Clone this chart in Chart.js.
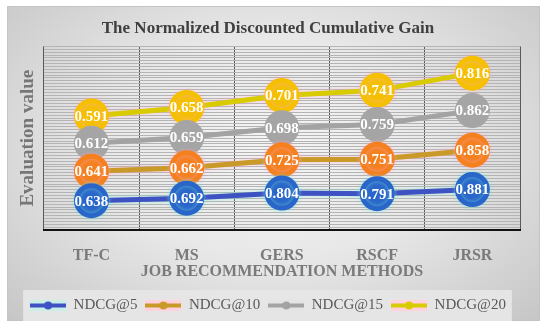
<!DOCTYPE html>
<html>
  <head>
    <meta charset="utf-8" />
    <title>NDCG</title>
    <style>
      body { margin: 0; background: #ffffff; }
      .panel {
        position: absolute;
        left: 7px;
        top: 6px;
        width: 533px;
        height: 315px;
        box-sizing: border-box;
        border: 1px solid #c4c4c4;
        background: radial-gradient(ellipse at 50% 45%, #f5f5f5 0%, #e8e8e8 45%, #c6c6c6 100%);
      }
      .panel canvas { position: absolute; left: -1px; top: -1px; }
    </style>
  </head>

  <body>
    <div class="panel">
      <canvas id="Chart1" width="533" height="315"></canvas>
    </div>

    <script src="https://cdn.jsdelivr.net/npm/chart.js@4"></script>

    <script>
      // methods
      var methods = ["TF-C", "MS", "GERS", "RSCF", "JRSR"];

      // NDCG values
      var ndcg5 = [0.638, 0.692, 0.804, 0.791, 0.881];
      var ndcg10 = [0.641, 0.662, 0.725, 0.751, 0.858];
      var ndcg15 = [0.612, 0.659, 0.698, 0.759, 0.862];
      var ndcg20 = [0.591, 0.658, 0.701, 0.741, 0.816];

      var names = ["NDCG@5", "NDCG@10", "NDCG@15", "NDCG@20"];
      var lineColors = ["#3f52c4", "#c99a28", "#a3a3a3", "#d8cc00"];
      var dotColors = ["#2a66ca", "#f4801f", "#a5a5a5", "#f4c000"];
      var glowColors = [
        "rgba(120,235,215,0.6)",
        "rgba(255,170,200,0.6)",
        "rgba(255,255,255,0)",
        "rgba(255,170,200,0.6)",
      ];
      var legendBg = ["#c9efe6", "#ffd2de", "#e4e4e4", "#ffd2de"];

      var serif = "'Liberation Serif', 'DejaVu Serif', serif";

      // small picture for the legend: line + dot
      function legendIcon(i) {
        var c = document.createElement("canvas");
        c.width = 36;
        c.height = 13;
        var g = c.getContext("2d");
        g.fillStyle = legendBg[i];
        g.fillRect(0, 1, 36, 11);
        g.strokeStyle = lineColors[i];
        g.lineWidth = 4;
        g.beginPath();
        g.moveTo(0, 6.5);
        g.lineTo(36, 6.5);
        g.stroke();
        g.fillStyle = lineColors[i];
        g.beginPath();
        g.arc(18, 6.5, 4, 0, Math.PI * 2);
        g.fill();
        return c;
      }

      var series = [ndcg5, ndcg10, ndcg15, ndcg20];
      var datasets = series.map(function (d, i) {
        return {
          label: names[i],
          data: d,
          borderColor: lineColors[i],
          backgroundColor: dotColors[i],
          pointBackgroundColor: dotColors[i],
          pointBorderColor: dotColors[i],
          pointRadius: 15,
          pointHoverRadius: 15,
          borderWidth: 5,
          tension: 0,
          fill: false,
          legendIcon: legendIcon(i),
        };
      });

      var glowPlugin = {
        id: "glow",
        beforeDatasetDraw: function (chart, args) {
          var ctx = chart.ctx;
          ctx.save();
          ctx.shadowColor = glowColors[args.index];
          ctx.shadowBlur = 4;
        },
        afterDatasetDraw: function (chart) {
          chart.ctx.restore();
        },
      };

      var valuePlugin = {
        id: "values",
        afterDatasetsDraw: function (chart) {
          var ctx = chart.ctx;
          ctx.save();
          ctx.font = "bold 15px " + serif;
          ctx.fillStyle = "#ffffff";
          ctx.textAlign = "center";
          ctx.textBaseline = "middle";
          chart.data.datasets.forEach(function (ds, i) {
            var meta = chart.getDatasetMeta(i);
            meta.data.forEach(function (pt, j) {
              ctx.fillText(ds.data[j].toFixed(3), pt.x, pt.y + 1);
            });
          });
          ctx.restore();
        },
      };

      var legendBox = {
        id: "legendBox",
        beforeDraw: function (chart) {
          var boxes = chart.legend.legendHitBoxes;
          if (!boxes || !boxes.length) return;
          var first = boxes[0];
          var last = boxes[boxes.length - 1];
          var ctx = chart.ctx;
          ctx.save();
          ctx.fillStyle = "rgba(230,230,230,0.95)";
          ctx.fillRect(first.left - 7, first.top - 8, last.left + last.width - first.left + 13, first.height + 16);
          ctx.restore();
        },
      };

      var ctx1 = document.getElementById("Chart1");
      var Chart1 = new Chart(ctx1, {
        type: "line",
        data: {
          labels: methods,
          datasets: datasets,
        },
        options: {
          responsive: false,
          animation: false,
          layout: { padding: { left: 8, right: 19, top: 4, bottom: -2 } },
          plugins: {
            tooltip: { enabled: false },
            title: {
              display: true,
              text: "The Normalized Discounted Cumulative Gain",
              color: "#404040",
              font: { family: serif, size: 17, weight: "bold" },
              padding: { top: 8, bottom: 8 },
            },
            legend: {
              position: "bottom",
              labels: {
                usePointStyle: true,
                pointStyleWidth: 36,
                padding: 8,
                color: "#595959",
                font: { family: serif, size: 15 },
                generateLabels: function (chart) {
                  return chart.data.datasets.map(function (ds, i) {
                    return {
                      text: ds.label,
                      pointStyle: ds.legendIcon,
                      fillStyle: ds.borderColor,
                      strokeStyle: ds.borderColor,
                      lineWidth: 0,
                      datasetIndex: i,
                      fontColor: "#595959",
                    };
                  });
                },
              },
            },
          },
          scales: {
            x: {
              offset: true,
              grid: { offset: true, color: "#5a5a5a", lineWidth: 1, drawTicks: false },
              border: { color: "#111111", width: 2 },
              ticks: {
                color: "#7a7a7a",
                padding: 18,
                font: { family: serif, size: 16, weight: "bold", lineHeight: 1 },
              },
              title: {
                display: true,
                text: "JOB RECOMMENDATION METHODS",
                color: "#7a7a7a",
                font: { family: serif, size: 16, weight: "bold", lineHeight: 1 },
                padding: { top: -18, bottom: 10 },
              },
            },
            y: {
              stacked: true,
              min: 0,
              max: 4,
              grid: { color: "#b4b4b4", lineWidth: 1, drawTicks: false },
              border: { display: false },
              ticks: { display: false, stepSize: 0.0625, maxTicksLimit: 100 },
              title: {
                display: true,
                text: "Evaluation value",
                color: "#767676",
                font: { family: serif, size: 19, weight: "bold" },
                padding: { top: 2, bottom: 4 },
              },
            },
          },
        },
        plugins: [glowPlugin, valuePlugin, legendBox],
      });
    </script>
  </body>
</html>
